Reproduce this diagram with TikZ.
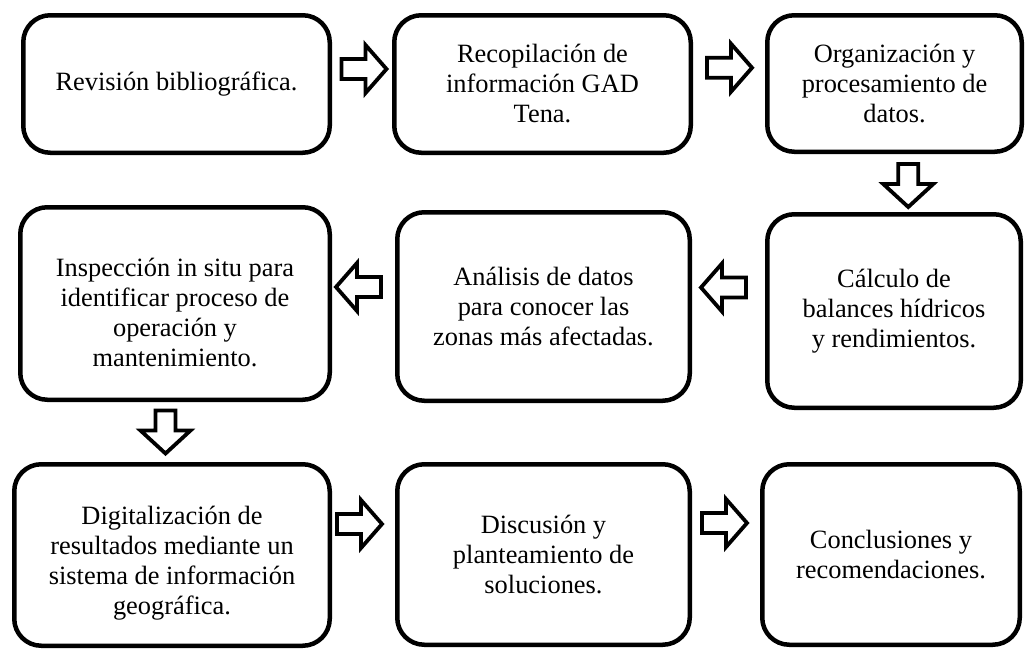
\documentclass[tikz,border=0pt]{standalone}
\usepackage{fontspec}
\setmainfont{Liberation Serif}
\usetikzlibrary{calc}
\tikzset{
  stepbox/.style={draw=black, line width=4.5pt, rounded corners=27pt, fill=white,
    inner sep=0pt, align=center, font=\fontsize{26.4}{30}\selectfont},
  blk/.style={draw=black, line width=3.8pt, fill=white, line join=miter},
  rarr/.pic={\draw[blk] (-23,-10) -- (1,-10) -- (1,-24) -- (22,0) -- (1,24) -- (1,10) -- (-23,10) -- cycle;},
  darr/.pic={\draw[blk] (-10,-22) -- (-10,-2) -- (-25,-2) -- (0,21) -- (25,-2) -- (10,-2) -- (10,-22) -- cycle;}
}
\begin{document}
\begin{tikzpicture}[x=1pt,y=-1pt]
\useasboundingbox (0,0) rectangle (1025,648);
% row 1
\node[stepbox, minimum width=306.5pt, minimum height=137.5pt] (b1) at (176.5,84) {Revisión bibliográfica.};
\node[stepbox, minimum width=296.5pt, minimum height=137.5pt] (b2) at (542.5,84) {Recopilación de\\información GAD\\Tena.};
\node[stepbox, minimum width=254.5pt, minimum height=136.5pt] (b3) at (894.5,83.5) {Organización y\\procesamiento de\\datos.};
% row 2
\node[stepbox, minimum width=309.5pt, minimum height=192.5pt] (b4) at (175,303.5) {\rule{0pt}{36pt}Inspección in situ para\\identificar proceso de\\operación y\\mantenimiento.};
\node[stepbox, minimum width=292.5pt, minimum height=188.5pt] (b5) at (543.5,306.5) {Análisis de datos\\para conocer las\\zonas más afectadas.};
\node[stepbox, minimum width=253.5pt, minimum height=193.5pt] (b6) at (894,311) {Cálculo de\\balances hídricos\\y rendimientos.};
% row 3
\node[stepbox, minimum width=315.5pt, minimum height=181.5pt] (b7) at (172,555) {\rule{0pt}{34pt}Digitalización de\\resultados mediante un\\sistema de información\\geográfica.};
\node[stepbox, minimum width=292.5pt, minimum height=180.5pt] (b8) at (543.5,554.5) {Discusión y\\planteamiento de\\soluciones.};
\node[stepbox, minimum width=257.5pt, minimum height=180.5pt] (b9) at (891,554.5) {Conclusiones y\\recomendaciones.};
% block arrows between the steps
\pic at ($(b1.east)!.5!(b2.west)+(2.5,-15)$) {rarr};
\pic at ($(b2.east)!.5!(b3.west)+(1,-16)$) {rarr};
\pic at ($(b3.south)!.5!(b6.north)+(14,3)$) {darr};
\pic[rotate=180] at ($(b6.west)!.5!(b5.east)+(-5.5,-21.25)$) {rarr};
\pic[rotate=180] at ($(b5.west)!.5!(b4.east)+(-5.5,-18)$) {rarr};
\pic at ($(b4.south)!.5!(b7.north)+(-8,0.5)$) {darr};
\pic at ($(b7.east)!.5!(b8.west)+(-3.5,-30.75)$) {rarr};
\pic at ($(b8.east)!.5!(b9.west)+(-1,-31.5)$) {rarr};
\end{tikzpicture}
\end{document}
